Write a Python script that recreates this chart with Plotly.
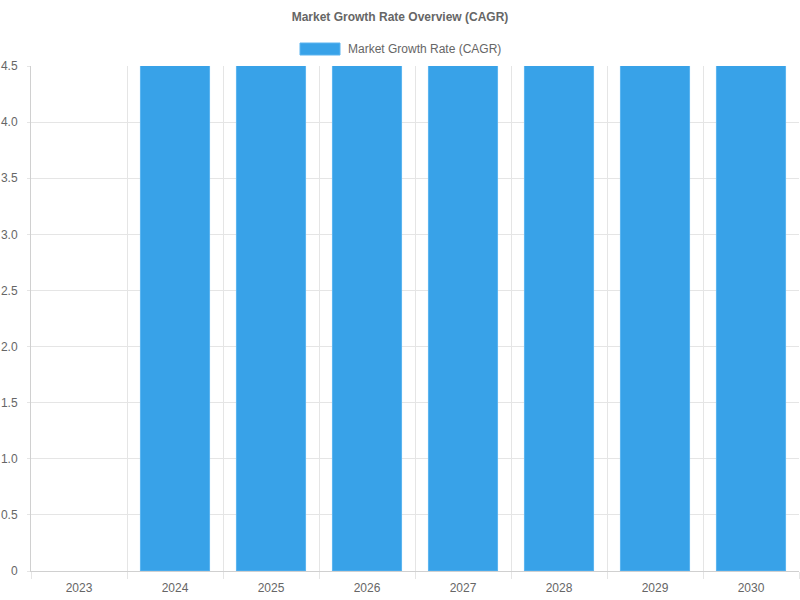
import plotly.graph_objects as go

years = ["2023", "2024", "2025", "2026", "2027", "2028", "2029", "2030"]
cagr = [None, 5.0, 5.0, 5.0, 5.0, 5.0, 5.0, 5.0]
series_name = "Market Growth Rate (CAGR)"
y_ticks = [0, 0.5, 1.0, 1.5, 2.0, 2.5, 3.0, 3.5, 4.0, 4.5]
y_tick_text = ["0", "0.5", "1.0", "1.5", "2.0", "2.5", "3.0", "3.5", "4.0", "4.5"]

bar_color = "rgb(56,162,232)"
font_family = "Liberation Sans, Arial, sans-serif"
txt = "#666666"
grid = "#e5e5e5"

fig = go.Figure()
fig.add_trace(go.Bar(
    x=years, y=cagr, name=series_name,
    marker=dict(color=bar_color, line=dict(color="rgb(90,180,240)", width=1)),
    width=0.72, showlegend=False,
))

fig.update_layout(
    width=800, height=600,
    paper_bgcolor="white", plot_bgcolor="white",
    margin=dict(l=31, r=1, t=66, b=29),
    font=dict(family=font_family, size=12, color=txt),
    title=dict(text="<b>Market Growth Rate Overview (CAGR)</b>", x=0.5, xanchor="center",
               y=1 - 17/600, yanchor="middle", font=dict(size=12, color=txt)),
    bargap=0.28,
    xaxis=dict(type="category", tickson="boundaries", ticks="outside", ticklen=7,
               tickcolor=grid, showgrid=True, gridcolor=grid, gridwidth=1,
               showline=True, linecolor="#d0d0d0", linewidth=1,
               ticklabelstandoff=6,
               tickfont=dict(size=12, color=txt), fixedrange=True),
    yaxis=dict(range=[0, 4.5], tickvals=y_ticks, ticktext=y_tick_text,
               showgrid=True, gridcolor=grid, gridwidth=1, zeroline=False,
               showline=True, linecolor="#d0d0d0", linewidth=1,
               ticks="outside", ticklen=3, tickcolor=grid,
               ticklabelstandoff=7,
               tickfont=dict(size=12, color=txt)),
)

# legend drawn as box + text to match the wide swatch
fig.add_shape(type="rect", xref="paper", yref="paper",
              x0=(300-31)/768, x1=(340-31)/768,
              y0=(571-55)/505, y1=(571-43)/505,
              fillcolor=bar_color, line=dict(color="rgb(90,180,240)", width=1))
fig.add_annotation(text=series_name, xref="paper", yref="paper",
                   x=(346-31)/768, y=(571-49.5)/505, xanchor="left", yanchor="middle",
                   showarrow=False, font=dict(size=12, color=txt))

fig.write_html("out.html", config={"displayModeBar": False},
               post_script="document.body.style.margin='0';document.body.style.padding='0';")
